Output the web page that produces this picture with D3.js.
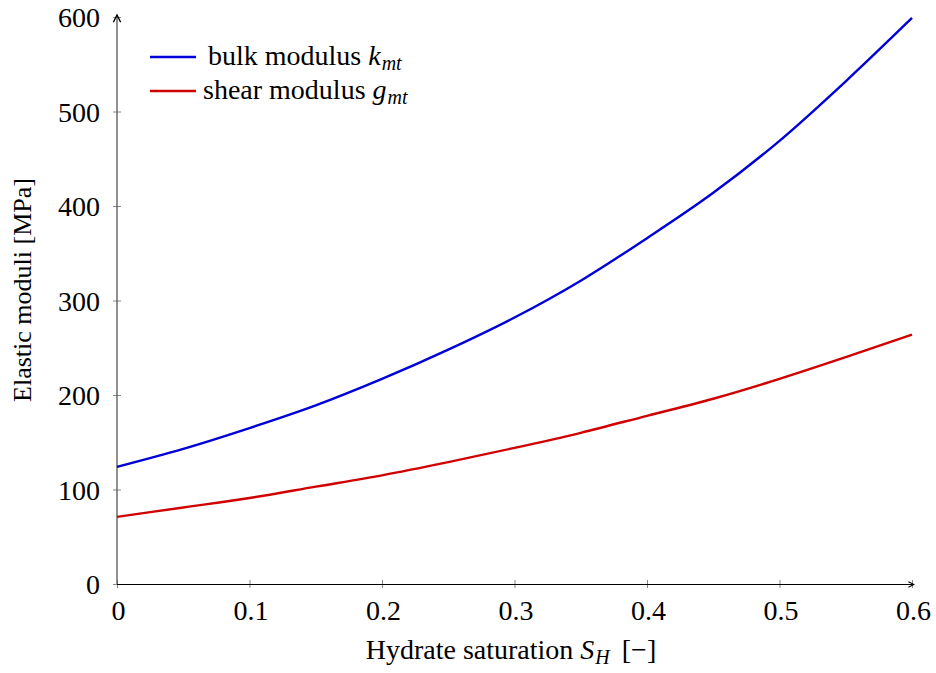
<!DOCTYPE html>
<html><head><meta charset="utf-8">
<script src="https://cdn.jsdelivr.net/npm/d3@7"></script>
<style>
body{margin:0;background:#fff;}
text{font-family:"Liberation Serif","Times New Roman",serif;fill:#000;}
</style></head><body>
<svg id="c" width="936" height="673"></svg>
<script>
const sat = [0,0.05,0.1,0.15,0.2,0.25,0.3,0.35,0.4,0.45,0.5,0.55,0.6];
const bulk = [124,143,165,189,217,248,282,321,366,414,469,532,599];
const shear = [71,81,91,103,115,129,144,160,178,196,217,240,264];
const xTicks = [0,0.1,0.2,0.3,0.4,0.5,0.6];
const yTicks = [0,100,200,300,400,500,600];

const svg = d3.select("#c");
const x = d3.scaleLinear().domain([0,0.6]).range([117,912]);
const y = d3.scaleLinear().domain([0,600]).range([584,17]);
const fs = 28;

// axes
const gx = svg.append("g").attr("transform","translate(0,584)")
  .call(d3.axisBottom(x).tickValues(xTicks).tickSize(0).tickFormat(d=>d===0?"0":d3.format(".1f")(d)));
gx.select(".domain").remove();
gx.selectAll("text").attr("dy",null).attr("y",36).attr("dx",1).style("font-size",fs+"px").style("font-family","Liberation Serif");
gx.selectAll(".tick line").remove();
gx.selectAll(".tick").append("line").attr("y1",-4).attr("y2",4).attr("stroke","#888");

const gy = svg.append("g").attr("transform","translate(117,0)")
  .call(d3.axisLeft(y).tickValues(yTicks).tickSize(0));
gy.select(".domain").remove();
gy.selectAll("text").attr("x",-17).attr("dy","0.34em").style("font-size",fs+"px").style("font-family","Liberation Serif");
gy.selectAll(".tick line").remove();
gy.selectAll(".tick").append("line").attr("x1",-4).attr("x2",4).attr("stroke","#888");

// axis lines with arrows
svg.append("defs").append("marker").attr("id","arr").attr("viewBox","0 0 10 10")
  .attr("refX",9).attr("refY",5).attr("markerWidth",7).attr("markerHeight",7).attr("orient","auto")
  .append("path").attr("d","M1,1 L9,5 L1,9").attr("fill","none").attr("stroke","#000").attr("stroke-width",1.5);
svg.append("line").attr("x1",x(0)).attr("x2",x(0.6)+2).attr("y1",584.5).attr("y2",584.5)
  .attr("stroke","#000").attr("stroke-width",1).attr("marker-end","url(#arr)");
svg.append("line").attr("x1",117).attr("x2",117).attr("y1",584).attr("y2",y(600)-2)
  .attr("stroke","#555").attr("stroke-width",1.3).attr("marker-end","url(#arr)");

// lines
const line = d3.line().x((d,i)=>x(sat[i])).y(d=>y(d)).curve(d3.curveMonotoneX);
svg.append("path").datum(bulk).attr("d",line).attr("fill","none").attr("stroke","#0000d8").attr("stroke-width",2.4);
svg.append("path").datum(shear).attr("d",line).attr("fill","none").attr("stroke","#d00000").attr("stroke-width",2.4);

// legend
const leg = [{c:"#0000d8",t:"bulk modulus ",s:"k",sub:"mt",y:57,tx:208},{c:"#d00000",t:"shear modulus ",s:"g",sub:"mt",y:91,tx:203}];
leg.forEach(l=>{
  svg.append("line").attr("x1",150).attr("x2",196).attr("y1",l.y).attr("y2",l.y).attr("stroke",l.c).attr("stroke-width",2.4);
  const t = svg.append("text").attr("x",l.tx).attr("y",l.y+8).style("font-size","28px");
  t.append("tspan").text(l.t);
  t.append("tspan").attr("font-style","italic").text(l.s);
  t.append("tspan").attr("font-style","italic").attr("dy",5).attr("dx",1).style("font-size","20px").text(l.sub);
});

// axis titles
const xt = svg.append("text").attr("x",511).attr("y",659).attr("text-anchor","middle").style("font-size","28px");
xt.append("tspan").text("Hydrate saturation ");
xt.append("tspan").attr("font-style","italic").text("S");
xt.append("tspan").attr("font-style","italic").attr("dy",5).attr("dx",1).style("font-size","20px").text("H");
xt.append("tspan").attr("dy",-5).attr("dx",5).text(" [−]");

svg.append("text").attr("transform","translate(31,290) rotate(-90)").attr("text-anchor","middle")
  .style("font-size","26px").text("Elastic moduli [MPa]");
</script></body></html>
